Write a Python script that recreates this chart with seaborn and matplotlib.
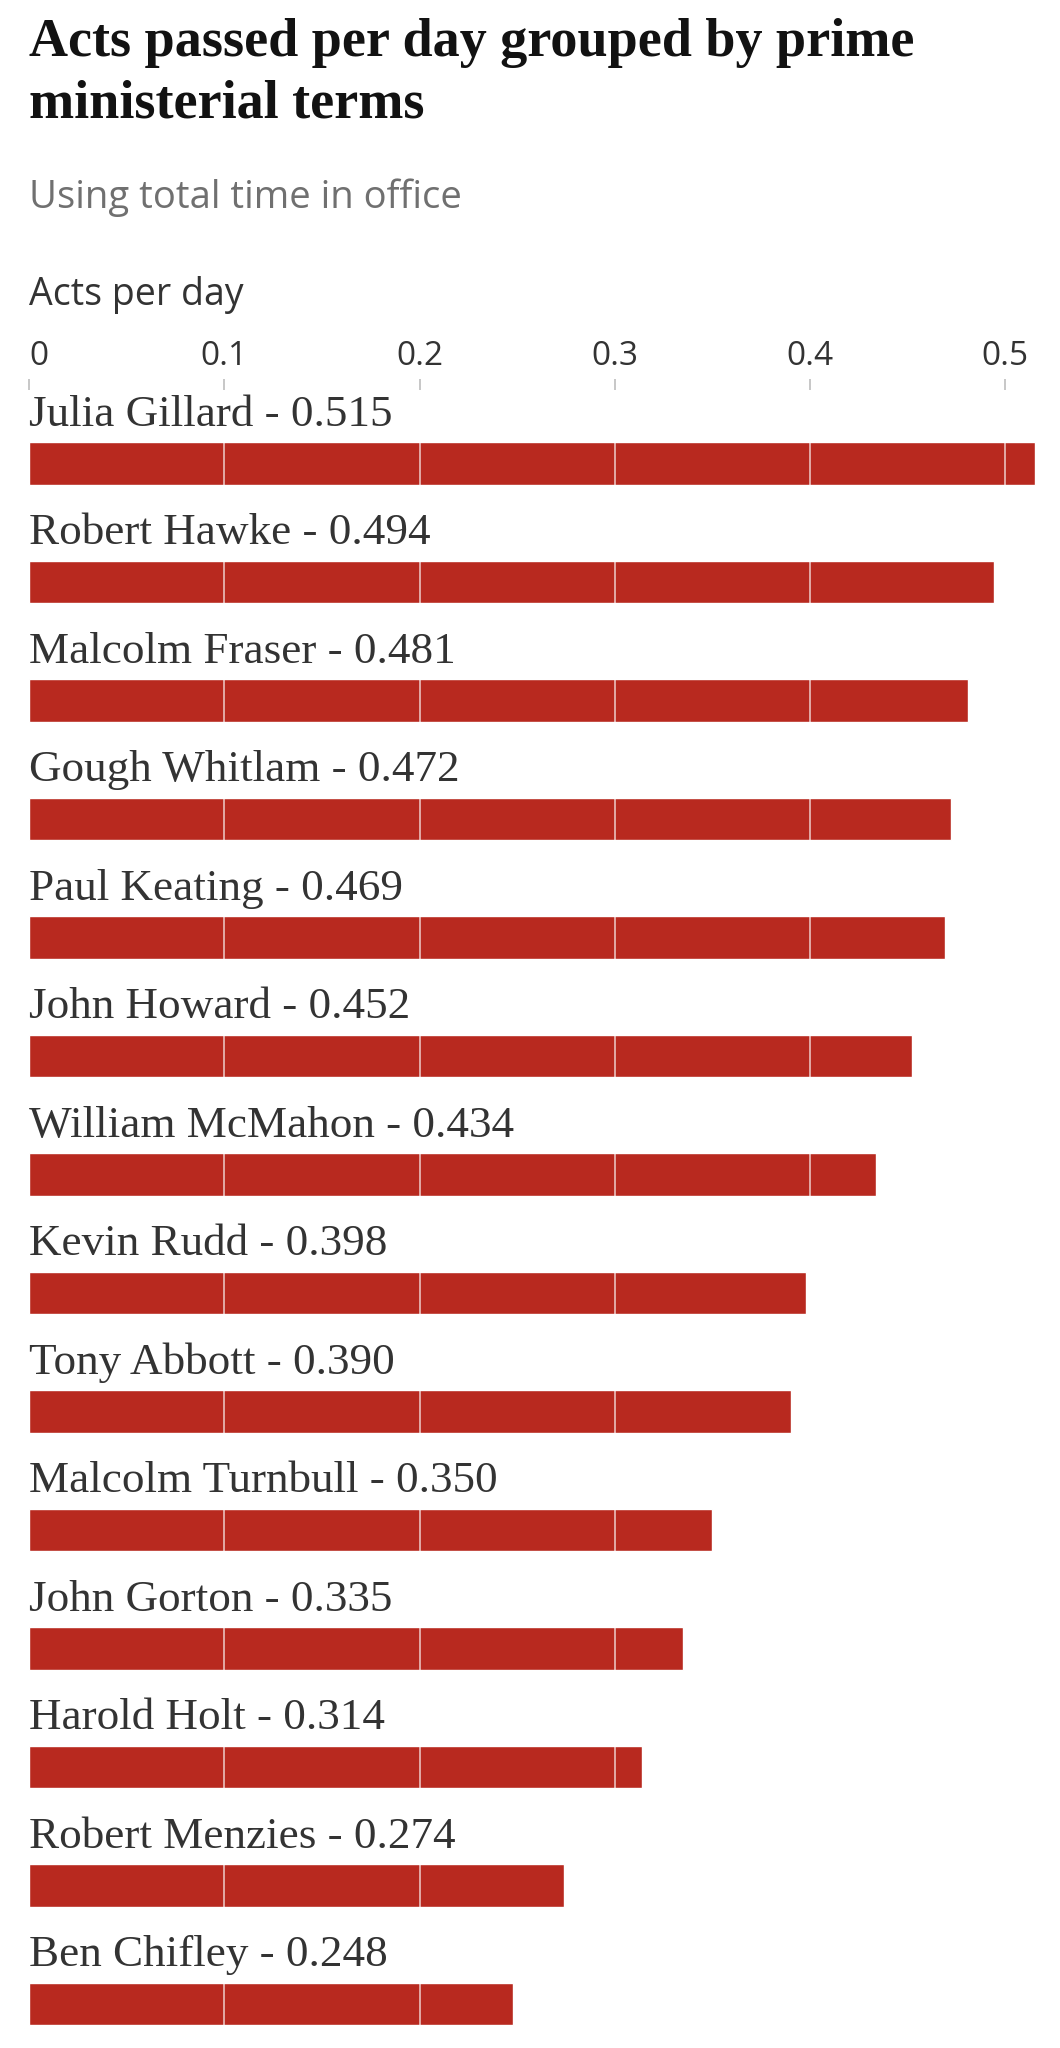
import matplotlib
matplotlib.use("Agg")
import matplotlib.pyplot as plt
import seaborn as sns
import pandas as pd

names = ["Julia Gillard", "Robert Hawke", "Malcolm Fraser", "Gough Whitlam",
         "Paul Keating", "John Howard", "William McMahon", "Kevin Rudd",
         "Tony Abbott", "Malcolm Turnbull", "John Gorton", "Harold Holt",
         "Robert Menzies", "Ben Chifley"]
acts_per_day = [0.515, 0.494, 0.481, 0.472, 0.469, 0.452, 0.434, 0.398,
                0.390, 0.350, 0.335, 0.314, 0.274, 0.248]
tick_values = [0, 0.1, 0.2, 0.3, 0.4, 0.5]
tick_labels = ["0", "0.1", "0.2", "0.3", "0.4", "0.5"]

title = "Acts passed per day grouped by prime\nministerial terms"
subtitle = "Using total time in office"
axis_label = "Acts per day"

df = pd.DataFrame({"name": names, "value": acts_per_day})

sns.set_theme(style="white")
plt.rcParams["font.family"] = ["Open Sans", "DejaVu Sans"]

W, H = 1060, 2048
fig = plt.figure(figsize=(W / 100, H / 100), dpi=100)
fig.patch.set_facecolor("white")

ax_left, ax_top = 29, 390
ax = fig.add_axes([ax_left / W, 0, 1 - ax_left / W, 1 - ax_top / H])

RED = "#b8291f"
sns.barplot(data=df, y="name", x="value", orient="h", color=RED,
            saturation=1, width=0.36, ax=ax, order=names)

row_px = 118.5
first_center = 463.5
ax.set_ylim((H - first_center) / row_px, (ax_top - first_center) / row_px)
ax.set_xlim(0, (W - ax_left) / 1952.6)

# gridlines over bars
ax.set_axisbelow(False)
ax.xaxis.grid(True, color="white", alpha=0.65, linewidth=1.3)
ax.yaxis.grid(False)

for s in ax.spines.values():
    s.set_visible(False)

ax.xaxis.tick_top()
ax.set_xticks(tick_values)
ax.set_xticklabels(tick_labels)
ax.tick_params(axis="x", top=True, bottom=False, length=8, width=1.2,
               color="#bdbdbd", pad=4, labelsize=24, labelcolor="#333333")
ax.get_xticklabels()[0].set_horizontalalignment("left")
ax.set_yticks([])
ax.set_xlabel("")
ax.set_ylabel("")

for i, (n, v) in enumerate(zip(names, acts_per_day)):
    ax.text(0, i - 0.32, f"{n} - {v:.3f}", ha="left", va="baseline",
            fontsize=32.5, color="#333333", family=["Liberation Serif"])

def fy(px):
    return 1 - px / H

fig.text(ax_left / W, fy(18), title, ha="left", va="top",
         fontsize=39, fontweight="bold", color="#121212",
         family=["Liberation Serif"], linespacing=1.3)
fig.text(ax_left / W, fy(208), subtitle, ha="left", va="baseline",
         fontsize=27.5, color="#707070")
fig.text(ax_left / W, fy(305), axis_label, ha="left", va="baseline",
         fontsize=27, color="#333333")

fig.savefig("out.png", dpi=100, facecolor="white")
